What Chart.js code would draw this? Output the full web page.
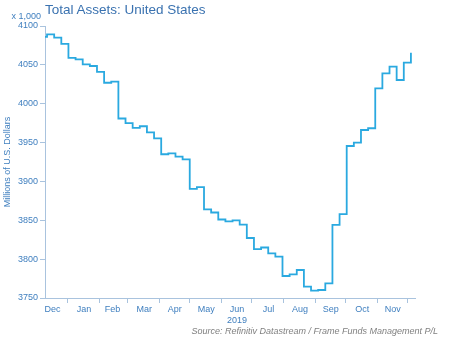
<!DOCTYPE html>
<html>
<head>
<meta charset="utf-8">
<script src="https://cdn.jsdelivr.net/npm/chart.js@4"></script>
<style>
  body { margin: 0; background: #fff; }
  #wrap { position: relative; width: 450px; height: 338px; font-family: "Liberation Sans", Arial, sans-serif; }
  #title { position: absolute; left: 45px; top: 2px; font-size: 13.5px; color: #3a72b0; white-space: nowrap; }
  #unit { position: absolute; right: 409px; top: 11px; font-size: 9px; color: #3f7fbf; white-space: nowrap; }
  #source { position: absolute; right: 12px; top: 326px; font-size: 9px; font-style: italic; color: #808080; white-space: nowrap; }
</style>
</head>
<body>
<div id="wrap">
  <canvas id="chart" width="450" height="338"></canvas>
  <div id="title">Total Assets: United States</div>
  <div id="unit">x 1,000</div>
  <div id="source">Source: Refinitiv Datastream / Frame Funds Management P/L</div>
</div>
<script>
// weekly (Wednesday) observations
const weeks = [
  '2018-12-05', '2018-12-12', '2018-12-19', '2018-12-26',
  '2019-01-02', '2019-01-09', '2019-01-16', '2019-01-23', '2019-01-30',
  '2019-02-06', '2019-02-13', '2019-02-20', '2019-02-27',
  '2019-03-06', '2019-03-13', '2019-03-20', '2019-03-27',
  '2019-04-03', '2019-04-10', '2019-04-17', '2019-04-24',
  '2019-05-01', '2019-05-08', '2019-05-15', '2019-05-22', '2019-05-29',
  '2019-06-05', '2019-06-12', '2019-06-19', '2019-06-26',
  '2019-07-03', '2019-07-10', '2019-07-17', '2019-07-24', '2019-07-31',
  '2019-08-07', '2019-08-14', '2019-08-21', '2019-08-28',
  '2019-09-04', '2019-09-11', '2019-09-18', '2019-09-25',
  '2019-10-02', '2019-10-09', '2019-10-16', '2019-10-23', '2019-10-30',
  '2019-11-06', '2019-11-13', '2019-11-20', '2019-11-27',
  '2019-12-04'
]
// millions of USD, x 1,000
const assets = [
  4086, 4089.3, 4085, 4077,
  4059, 4057, 4050.7, 4048.5, 4041,
  4027, 4028.3, 3981, 3975,
  3969, 3971, 3963, 3955.5,
  3935, 3936, 3932, 3928.5,
  3890.3, 3892.6, 3864, 3860, 3851,
  3848.7, 3850, 3844.3, 3827.2,
  3813, 3815, 3807.5, 3803.3, 3778.3,
  3780.5, 3786, 3764.6, 3759.4,
  3760.3, 3768.9, 3844, 3857.8,
  3945.6, 3949.9, 3966.2, 3968.4, 4019.8,
  4039.1, 4047.7, 4030.5, 4052.8,
  4065.7
]
// tick marks sit on month starts, label is the month before it
const monthStarts = ['2019-01-01', '2019-02-01', '2019-03-01', '2019-04-01', '2019-05-01', '2019-06-01',
  '2019-07-01', '2019-08-01', '2019-09-01', '2019-10-01', '2019-11-01', '2019-12-01']
const monthLabels = ['Dec', 'Jan', 'Feb', 'Mar', 'Apr', 'May', ['Jun', '2019'], 'Jul', 'Aug', 'Sep', 'Oct', 'Nov']
const yTicks = [3750, 3800, 3850, 3900, 3950, 4000, 4050, 4100]

const origin = Date.UTC(2019, 0, 1)
function dayOf(s) {
  const p = s.split('-')
  return (Date.UTC(+p[0], +p[1] - 1, +p[2]) - origin) / 86400000
}

const points = weeks.map((w, i) => ({ x: dayOf(w), y: assets[i] }))
const tickDays = monthStarts.map(dayOf)

const axisColor = '#a9c3de'
const labelColor = '#3f7fbf'
const font = { family: '"Liberation Sans", Arial, sans-serif', size: 9 }

new Chart(document.getElementById('chart'), {
  type: 'line',
  data: {
    datasets: [{
      data: points,
      stepped: true,
      borderColor: '#2aa9e0',
      borderWidth: 1.8,
      pointRadius: 0,
      fill: false
    }]
  },
  options: {
    responsive: false,
    animation: false,
    layout: { padding: { top: 26, right: 35, left: 0, bottom: 0 } },
    plugins: { legend: { display: false }, tooltip: { enabled: false } },
    scales: {
      x: {
        type: 'linear',
        min: -22,
        max: 341,
        afterBuildTicks: scale => { scale.ticks = tickDays.map(v => ({ value: v })) },
        afterFit: scale => { scale.height = 40 },
        ticks: {
          callback: (v, i) => monthLabels[i],
          autoSkip: false,
          maxRotation: 0,
          labelOffset: -15,
          padding: 1,
          color: labelColor,
          font: font
        },
        grid: { drawOnChartArea: false, tickLength: 5, color: axisColor },
        border: { color: axisColor }
      },
      y: {
        min: 3750,
        max: 4100,
        afterBuildTicks: scale => { scale.ticks = yTicks.map(v => ({ value: v })) },
        afterFit: scale => { scale.width = 45 },
        ticks: { callback: v => String(v), color: labelColor, font: font, padding: 2 },
        grid: { drawOnChartArea: false, tickLength: 5, color: axisColor },
        border: { color: axisColor },
        title: {
          display: true,
          text: 'Millions of U.S. Dollars',
          color: labelColor,
          font: font,
          padding: { top: 2, bottom: 0 }
        }
      }
    }
  }
})
</script>
</body>
</html>
